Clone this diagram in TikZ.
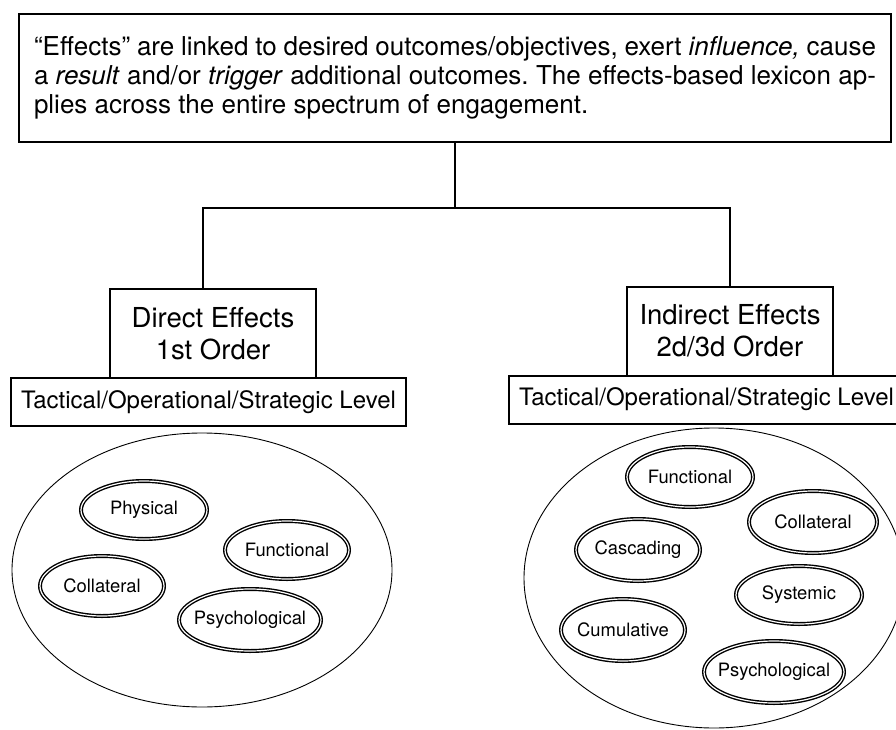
\documentclass[tikz,border=0pt]{standalone}
\usepackage{fontspec}
\setmainfont{TeX Gyre Heros}
\usetikzlibrary{positioning}
\tikzstyle{introbox} = [rectangle, draw, line width=2pt, inner xsep=15pt,
    minimum height=128pt]
\tikzstyle{effectbox} = [rectangle, draw, line width=2pt, fill=white, align=center,
    minimum width=206pt, minimum height=89pt, font=\fontsize{27.5}{32}\selectfont]
\tikzstyle{levelbox} = [rectangle, draw, line width=2pt, fill=white, inner sep=0pt,
    minimum width=395pt, minimum height=48pt, font=\fontsize{24}{28}\selectfont]
\tikzstyle{link} = [draw, line width=2pt]
\tikzstyle{zone} = [draw, line width=0.9pt]
\tikzstyle{ring} = [draw, double, double distance=1.2pt, line width=1.4pt]
\tikzstyle{tag} = [inner sep=0pt, font=\fontsize{18.4}{20}\selectfont]

\begin{document}
\begin{tikzpicture}[x=1pt, y=-1pt]
    \clip (0,0) rectangle (896,730);
    % Place nodes
    \node [introbox] (intro) at (455,78) {\begin{minipage}{842pt}\fontsize{26}{29}\selectfont\frenchspacing
        “Effects” are linked to desired outcomes/objectives, exert \textit{influence,} cause\linebreak
        a \textit{result} and/or \textit{trigger} additional outcomes. The effects-based lexicon ap-\linebreak
        plies across the entire spectrum of engagement.\end{minipage}\hspace{28pt}};
    \node [effectbox] (direct) at (213,333.5) {Direct Effects\\1st Order};
    \node [levelbox, below=-2pt of direct, xshift=-4.5pt] (dlevel) {Tactical/Operational/Strategic Level};
    \node [effectbox] (indirect) at (730,331) {Indirect Effects\\2d/3d Order};
    \node [levelbox, below=-2pt of indirect, xshift=-23.5pt] (ilevel) {Tactical/Operational/Strategic Level};
    % Draw edges
    \coordinate (forkL) at (203,208);
    \coordinate (forkR) at (indirect.north |- forkL);
    \path [link] (intro.south) -- (intro.south |- forkL);
    \path [link] (forkL |- direct.north) -- (forkL) -- (forkR) -- (indirect.north);
    % Direct effects
    \coordinate (dzone) at (202,570);
    \draw [zone] (dzone) ellipse [x radius=190pt, y radius=137pt];
    \node [tag] (dphys) at (144,510) {Physical};
    \draw [ring] (dphys) ellipse [x radius=63pt, y radius=29pt];
    \node [tag] (dfunc) at (287,550) {Functional};
    \draw [ring] (dfunc) ellipse [x radius=62pt, y radius=29pt];
    \node [tag] (dcoll) at (102,586) {Collateral};
    \draw [ring] (dcoll) ellipse [x radius=62pt, y radius=30pt];
    \node [tag] (dpsy) at (250,620) {Psychological};
    \draw [ring] (dpsy) ellipse [x radius=71pt, y radius=31pt];
    % Indirect effects
    \coordinate (izone) at (714,578);
    \draw [zone] (izone) ellipse [x radius=190pt, y radius=150pt];
    \node [tag] (ifunc) at (690,477) {Functional};
    \draw [ring] (ifunc) ellipse [x radius=63pt, y radius=30pt];
    \node [tag] (icoll) at (813,522) {Collateral};
    \draw [ring] (icoll) ellipse [x radius=64pt, y radius=31pt];
    \node [tag] (icasc) at (638,550) {Cascading};
    \draw [ring] (icasc) ellipse [x radius=62pt, y radius=31pt];
    \node [tag] (isys) at (799,595) {Systemic};
    \draw [ring] (isys) ellipse [x radius=63pt, y radius=29pt];
    \node [tag] (icum) at (623,630) {Cumulative};
    \draw [ring] (icum) ellipse [x radius=62pt, y radius=31pt];
    \node [tag] (ipsy) at (774,672) {Psychological};
    \draw [ring] (ipsy) ellipse [x radius=70pt, y radius=31pt];
\end{tikzpicture}
\end{document}
